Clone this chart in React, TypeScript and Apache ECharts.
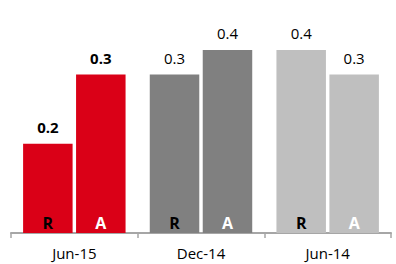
import React, { useEffect, useRef } from "react";
import * as echarts from "echarts";

const categories = ["Jun-15", "Dec-14", "Jun-14"];
const seriesNames = ["R", "A"];
const rValues = [0.195, 0.346, 0.4];
const aValues = [0.346, 0.4, 0.346];
const groupColors = ["#DA0017", "#808080", "#BFBFBF"];
const boldGroup = [true, false, false];

export default function App() {
  const ref = useRef<HTMLDivElement>(null);
  useEffect(() => {
    if (!ref.current) return;
    const chart = echarts.init(ref.current, null, { renderer: "svg" });
    const font = "'Open Sans', 'Liberation Sans', sans-serif";
    const mk = (vals: number[]) =>
      vals.map((v, i) => ({
        value: v,
        itemStyle: { color: groupColors[i] },
        label: { fontWeight: boldGroup[i] ? "bold" : "normal" },
      }));
    const valueSeries = (name: string, vals: number[]) => ({
      type: "bar",
      name,
      xAxisIndex: 0,
      barWidth: 49.5,
      barGap: "7%",
      data: mk(vals),
      label: {
        show: true,
        position: "top",
        distance: 9,
        fontFamily: font,
        fontSize: 15,
        color: "#000",
        formatter: (p: any) => p.value.toFixed(1),
      },
    });
    const tagSeries = (name: string, vals: number[], color: string) => ({
      type: "bar",
      name: name + "_tag",
      xAxisIndex: 1,
      barWidth: 49.5,
      barGap: "7%",
      data: vals,
      itemStyle: { color: "transparent" },
      label: {
        show: true,
        position: "insideBottom",
        distance: 2,
        fontFamily: font,
        fontSize: 16,
        fontWeight: "bold",
        color,
        formatter: () => name,
      },
      silent: true,
    });
    chart.setOption({
      animation: false,
      grid: { left: 11, right: 5, top: 27, bottom: 31, containLabel: false },
      xAxis: [
        {
          type: "category",
          data: categories,
          axisLine: { lineStyle: { color: "#A6A6A6", width: 2 } },
          axisTick: { show: true, length: 5, lineStyle: { color: "#A6A6A6", width: 1.5 } },
          axisLabel: { fontFamily: font, fontSize: 15, color: "#000", margin: 12 },
        },
        { type: "category", data: categories, show: false },
      ],
      yAxis: { type: "value", min: 0, max: 0.45, show: false, splitLine: { show: false } },
      series: [
        valueSeries(seriesNames[0], rValues),
        valueSeries(seriesNames[1], aValues),
        tagSeries(seriesNames[0], rValues, "#000"),
        tagSeries(seriesNames[1], aValues, "#fff"),
      ],
    });
    return () => chart.dispose();
  }, []);
  return <div ref={ref} style={{ width: 396, height: 264, position: "absolute", left: 0, top: 0 }} />;
}
